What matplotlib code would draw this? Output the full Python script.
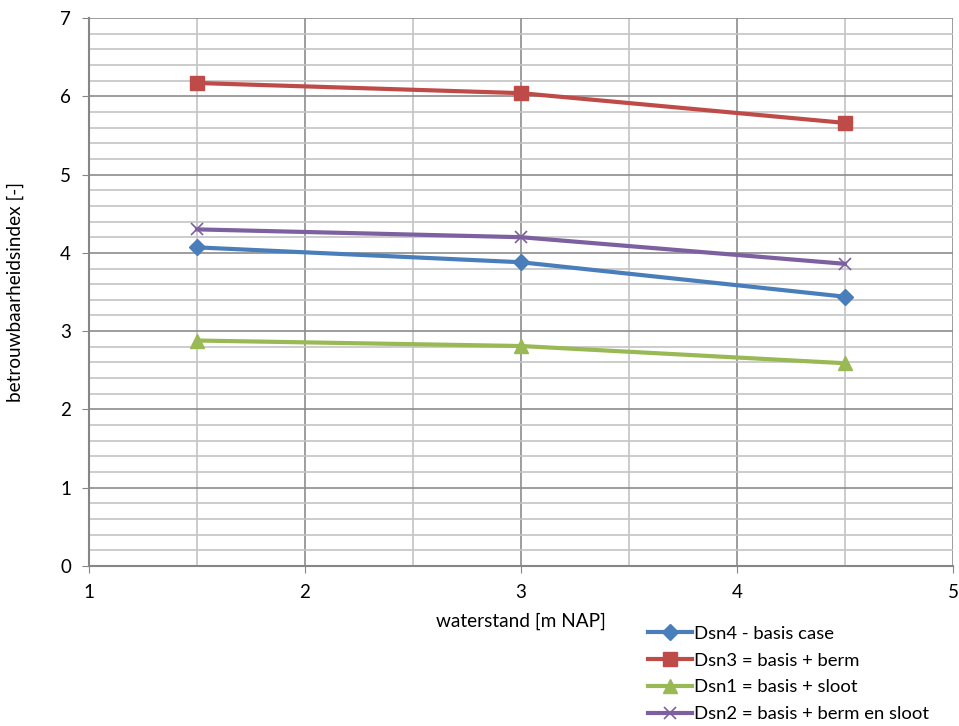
import matplotlib
matplotlib.use('Agg')
import matplotlib.pyplot as plt
from matplotlib.ticker import MultipleLocator

plt.rcParams['font.family'] = ['Lato', 'DejaVu Sans']

# waterstand [m NAP]
x = [1.5, 3.0, 4.5]

dsn4 = [4.07, 3.88, 3.44]
dsn3 = [6.17, 6.04, 5.66]
dsn1 = [2.88, 2.81, 2.59]
dsn2 = [4.30, 4.20, 3.86]

labels = ['Dsn4 - basis case', 'Dsn3 = basis + berm',
          'Dsn1 = basis + sloot', 'Dsn2 = basis + berm en sloot']

fig = plt.figure(figsize=(9.59, 7.26), dpi=100)
ax = fig.add_axes([0.0928, 0.2204, 0.9009, 0.7548])

ax.plot(x, dsn4, color='#4A7EBB', lw=3, marker='D', ms=8, label=labels[0])
ax.plot(x, dsn3, color='#BE4B48', lw=3, marker='s', ms=10, label=labels[1])
ax.plot(x, dsn1, color='#98B954', lw=3, marker='^', ms=10, label=labels[2])
ax.plot(x, dsn2, color='#7D60A0', lw=3, marker='x', ms=9, mew=1.2, label=labels[3])

ax.set_xlim(1, 5)
ax.set_ylim(0, 7)
ax.xaxis.set_major_locator(MultipleLocator(1))
ax.xaxis.set_minor_locator(MultipleLocator(0.5))
ax.yaxis.set_major_locator(MultipleLocator(1))
ax.yaxis.set_minor_locator(MultipleLocator(0.2))

ax.grid(True, which='major', color='#8c8c8c', lw=1.2)
ax.grid(True, which='minor', color='#c4c4c4', lw=1.2)
ax.set_axisbelow(True)

for s in ['top', 'right']:
    ax.spines[s].set_visible(False)
for s in ['left', 'bottom']:
    ax.spines[s].set_color('#868686')
    ax.spines[s].set_linewidth(1.5)

ax.tick_params(which='major', length=5, color='#868686', labelsize=13.5, pad=8)
ax.tick_params(which='minor', length=0)

ax.set_xlabel('waterstand [m NAP]', fontsize=13.7, labelpad=8)
ax.set_ylabel('betrouwbaarheidsindex [-]', fontsize=13.7, labelpad=26)

fig.legend(loc='upper left', bbox_to_anchor=(0.668, 0.148), frameon=False,
           fontsize=13.3, handlelength=2.4, handletextpad=0.1,
           labelspacing=0.58, borderaxespad=0)

fig.savefig('out.png', dpi=100)
